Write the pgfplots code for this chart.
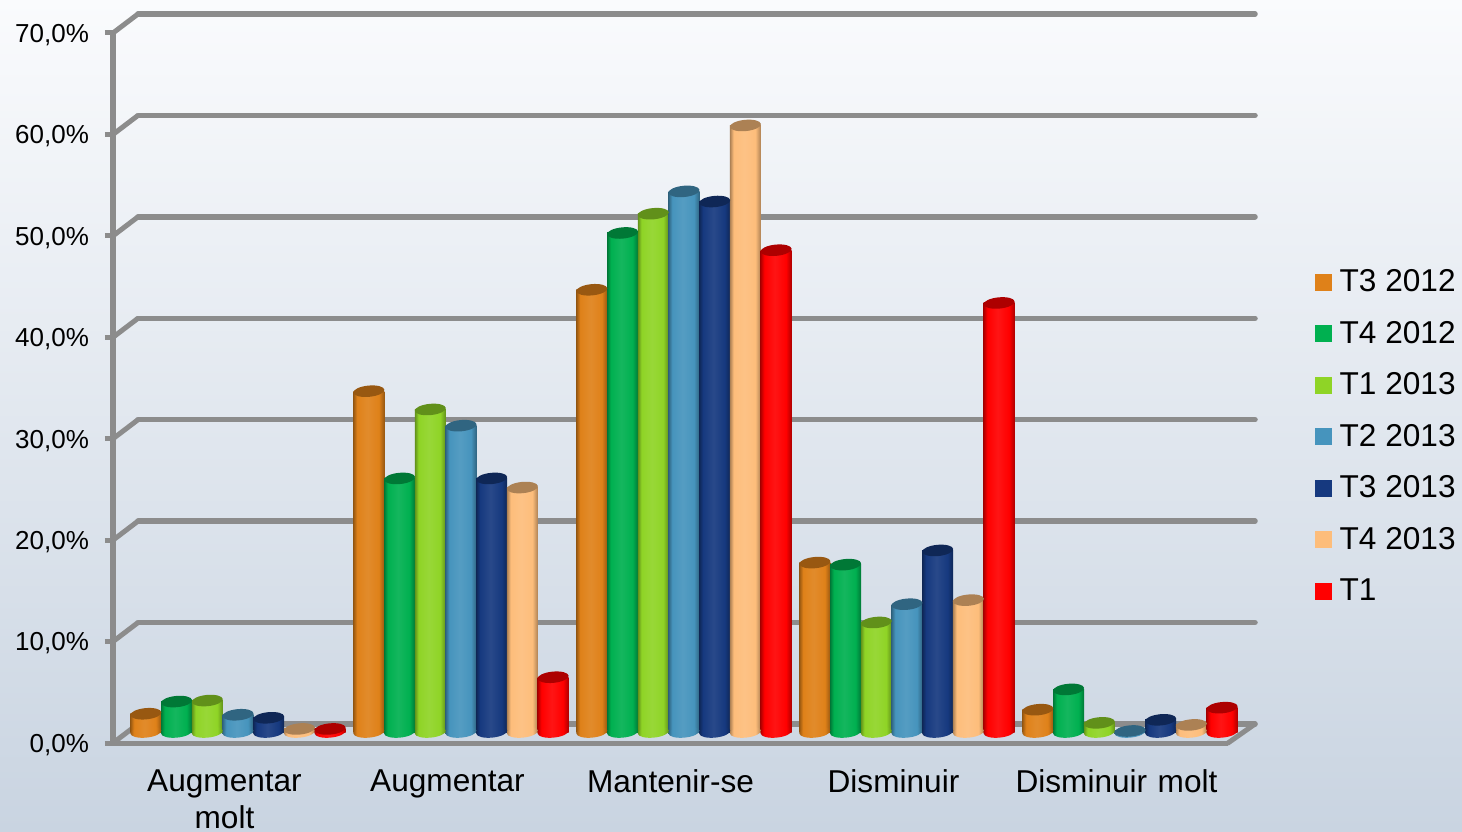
\documentclass[border=0pt]{standalone}
\usepackage{fontspec}
\setmainfont{Liberation Sans}
\usepackage{pgfplots}
\pgfplotsset{compat=1.18}
\usepackage{pgfplotstable}
\newdimen\px \px=0.5pt
\definecolor{gridgray}{HTML}{8C8C8C}
\definecolor{bgT}{HTML}{FAFBFD}
\definecolor{bgM}{HTML}{E8EDF3}
\definecolor{bgB}{HTML}{C9D4E1}

% value read at the mid-depth plane of the 3D chart
\pgfplotstableread{
c  a    b    d    e    f    g    h
1  1.8  3.0  3.1  1.7  1.4  0.3  0.3
2  33.6 25.0 31.8 30.2 25.0 24.1 5.4
3  43.6 49.2 51.1 53.3 52.3 59.8 47.5
4  16.7 16.5 10.8 12.6 17.9 13.0 42.3
5  2.2  4.2  0.9  0.1  1.2  0.7  2.4
}\bardata

% colours, cylinder shading and rounded foot of one series
\newcommand\mkser[2]{%
  \definecolor{#1}{HTML}{#2}%
  \colorlet{#1D}{#1!68!black}%
  \colorlet{#1L}{#1!92!white}%
  \pgfdeclarehorizontalshading{sh#1}{100bp}{color(0bp)=(#1D); color(25bp)=(#1D); color(31bp)=(#1); color(48bp)=(#1L); color(66bp)=(#1); color(75bp)=(#1D); color(100bp)=(#1D)}%
  \pgfdeclareplotmark{bot#1}{\pgfpathellipse{\pgfpointorigin}{\pgfqpoint{15.5\px}{1.5\px}}{\pgfqpoint{-0.6\px}{5.6\px}}\pgfshadepath{sh#1}{0}\pgfusepath{discard}}%
}
\mkser{sa}{DF8119}
\mkser{sb}{00B050}
\mkser{sd}{8FD426}
\mkser{se}{4694BD}
\mkser{sf}{16397F}
\mkser{sg}{FDBD7B}
\mkser{sh}{FF0000}
\pgfdeclareplotmark{cap}{\pgfpathellipse{\pgfpointorigin}{\pgfqpoint{15.5\px}{1.5\px}}{\pgfqpoint{-0.6\px}{5.6\px}}\pgfusepathqfill}

% one bar: table row lo of a series, so that each cylinder gets its own shading
\newcommand\onebar[5]{%
  \addplot[forget plot, ybar, bar shift=0pt, bar width=31\px, draw=none, shade, shading=sh#1,
    skip coords between index={0}{#4}, skip coords between index={#5}{5}]
    table[x expr=\thisrow{c}+(#2)*0.1377, y=#3]{\bardata};
}
\newcommand\serie[3]{%
  \addplot[forget plot, only marks, mark=bot#1] table[x expr=\thisrow{c}+(#2)*0.1377, y expr=0]{\bardata};
  \onebar{#1}{#2}{#3}{0}{1}
  \onebar{#1}{#2}{#3}{1}{2}
  \onebar{#1}{#2}{#3}{2}{3}
  \onebar{#1}{#2}{#3}{3}{4}
  \onebar{#1}{#2}{#3}{4}{5}
  \addplot[forget plot, only marks, mark=cap, mark options={fill=#1D, draw=none}] table[x expr=\thisrow{c}+(#2)*0.1377, y=#3]{\bardata};
}

\begin{document}
\begin{tikzpicture}[x=1\px,y=1\px]
\path[use as bounding box] (0,0) rectangle (1462,831);
\shade[top color=bgT, middle color=bgM, bottom color=bgB] (0,0) rectangle (1462,831);

% back wall grid
\begin{axis}[
  at={(138\px,107\px)}, anchor=south west, scale only axis,
  width=1117\px, height=710\px,
  xmin=0, xmax=1, ymin=0, ymax=70,
  axis line style={draw=none}, xtick=\empty, ytick={0,10,...,70},
  yticklabels={}, major tick length=0pt,
  ymajorgrids, grid style={gridgray, line width=5.5\px, line cap=round},
]
\end{axis}

% front axis with the ticks and the side-wall slants
\begin{axis}[
  at={(113\px,88\px)}, anchor=south west, scale only axis,
  width=1115\px, height=710\px,
  xmin=0.5, xmax=5.5, ymin=0, ymax=70,
  clip=false,
  axis x line*=bottom, axis y line*=left,
  axis line style={gridgray, line width=5\px, -},
  xtick={1,...,5},
  xticklabels={Augmentar\\molt,Augmentar,Mantenir-se,Disminuir,Disminuir molt},
  x tick label style={font=\fontsize{15.8}{18.5}\selectfont, align=center, text width=210\px, yshift=-12\px, inner xsep=0pt},
  minor xtick={0.5,1.5,...,5.5},
  xtick style={draw=none},
  minor tick length=9\px,
  minor x tick style={gridgray, line width=5\px},
  ytick={0,10,...,70},
  y tick style={gridgray, line width=5\px},
  major y tick style={gridgray, line width=5\px},
  tick align=outside, major tick length=8\px,
  y tick label style={font=\fontsize{13}{15}\selectfont, xshift=-9\px, yshift=-2\px},
  yticklabel={\pgfmathprintnumber{\tick}\%},
  /pgf/number format/.cd, fixed, fixed zerofill, precision=1, use comma, assume math mode=true,
]
\pgfplotsinvokeforeach{0,10,...,70}{
  \draw[gridgray, line width=5\px] (axis cs:0.5,#1) -- ++(25\px,19\px);
}
\draw[gridgray, line width=5\px, line cap=round] (axis cs:5.5,0) -- ++(27\px,19\px);
\end{axis}

% cylinders
\begin{axis}[
  at={(126.5\px,99\px)}, anchor=south west, scale only axis,
  width=1115\px, height=710\px,
  xmin=0.5, xmax=5.5, ymin=0, ymax=70,
  clip=false, axis lines=none,
  legend style={at={(1.0658,0.416)}, anchor=west, draw=none, fill=none,
    font=\fontsize{15.8}{19}\selectfont, row sep=18.5\px, inner sep=0pt},
  legend cell align=left,
  legend image code/.code={\fill[#1, draw=none] (-6\px,-8.5\px) rectangle (11\px,8.5\px); \path (14\px,0);},
]
\serie{sa}{-3}{a}
\serie{sb}{-2}{b}
\serie{sd}{-1}{d}
\serie{se}{0}{e}
\serie{sf}{1}{f}
\serie{sg}{2}{g}
\serie{sh}{3}{h}
\addlegendimage{fill=sa}\addlegendentry{T3 2012}
\addlegendimage{fill=sb}\addlegendentry{T4 2012}
\addlegendimage{fill=sd}\addlegendentry{T1 2013}
\addlegendimage{fill=se}\addlegendentry{T2 2013}
\addlegendimage{fill=sf}\addlegendentry{T3 2013}
\addlegendimage{fill=sg}\addlegendentry{T4 2013}
\addlegendimage{fill=sh}\addlegendentry{T1}
\end{axis}
\end{tikzpicture}
\end{document}
